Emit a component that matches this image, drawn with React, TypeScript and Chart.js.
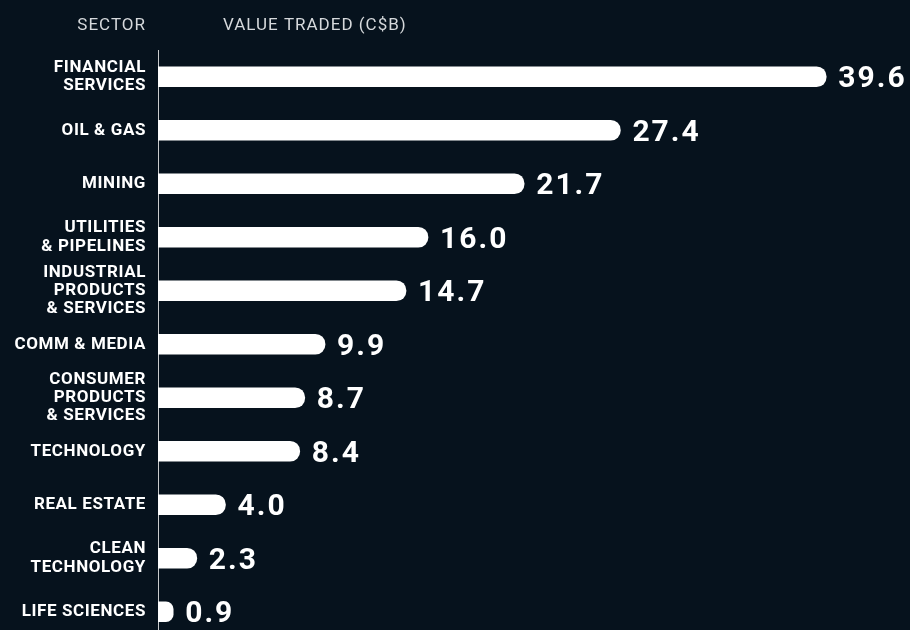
import React, { useEffect, useRef } from "react";
import { Chart, registerables } from "chart.js";

Chart.register(...registerables);

const sectors: string[][] = [
  ["FINANCIAL", "SERVICES"],
  ["OIL & GAS"],
  ["MINING"],
  ["UTILITIES", "& PIPELINES"],
  ["INDUSTRIAL", "PRODUCTS", "& SERVICES"],
  ["COMM & MEDIA"],
  ["CONSUMER", "PRODUCTS", "& SERVICES"],
  ["TECHNOLOGY"],
  ["REAL ESTATE"],
  ["CLEAN", "TECHNOLOGY"],
  ["LIFE SCIENCES"],
];
const values: number[] = [39.6, 27.4, 21.7, 16.0, 14.7, 9.9, 8.7, 8.4, 4.0, 2.3, 0.9];
const headerSector = "SECTOR";
const headerValue = "VALUE TRADED (C$B)";

const BG = "#06121d";
const FONT = "Roboto, 'Liberation Sans', sans-serif";

export default function App() {
  const ref = useRef<HTMLCanvasElement>(null);

  useEffect(() => {
    const canvas = ref.current;
    if (!canvas) return;

    const plugin = {
      id: "custom",
      beforeDraw(chart: any) {
        const ctx = chart.ctx;
        ctx.save();
        ctx.fillStyle = BG;
        ctx.fillRect(0, 0, chart.width, chart.height);
        ctx.restore();
        (ctx as any).letterSpacing = "0.6px";
      },
      afterDatasetsDraw(chart: any) {
        const ctx = chart.ctx;
        const meta = chart.getDatasetMeta(0);
        ctx.save();
        (ctx as any).letterSpacing = "2px";
        ctx.fillStyle = "#ffffff";
        ctx.font = `bold 30px ${FONT}`;
        ctx.textAlign = "left";
        ctx.textBaseline = "alphabetic";
        meta.data.forEach((bar: any, i: number) => {
          ctx.fillText(values[i].toFixed(1), bar.x + 12, bar.y + 10.5);
        });
        ctx.restore();
      },
      afterDraw(chart: any) {
        const ctx = chart.ctx;
        const area = chart.chartArea;
        ctx.save();
        (ctx as any).letterSpacing = "1px";
        ctx.fillStyle = "#d6d9dc";
        ctx.font = `17px ${FONT}`;
        ctx.textBaseline = "alphabetic";
        ctx.textAlign = "right";
        ctx.fillText(headerSector, area.left - 12, 30);
        ctx.textAlign = "left";
        ctx.fillText(headerValue, area.left + 65, 30);
        ctx.restore();
      },
    };

    const chart = new Chart(canvas, {
      type: "bar",
      data: {
        labels: sectors,
        datasets: [
          {
            data: values,
            backgroundColor: "#ffffff",
            borderWidth: 0,
            barThickness: 20,
            borderRadius: { topLeft: 0, bottomLeft: 0, topRight: 10, bottomRight: 10 },
            borderSkipped: false,
          },
        ],
      },
      options: {
        indexAxis: "y",
        responsive: false,
        animation: false,
        devicePixelRatio: 1,
        layout: { padding: { left: 0, right: 77, top: 50, bottom: 1.5 } },
        plugins: {
          legend: { display: false },
          tooltip: { enabled: false },
          title: { display: false },
        },
        scales: {
          x: { display: false, min: 0, max: 40 },
          y: {
            afterFit: (scale: any) => {
              scale.width = 158;
              scale.paddingTop = 0;
              scale.paddingBottom = 0;
            },
            grid: { display: false, drawTicks: false },
            border: { display: true, color: "#c9cbcd", width: 1 },
            ticks: {
              autoSkip: false,
              color: "#ffffff",
              padding: 12,
              font: { family: FONT, size: 17, weight: "bold", lineHeight: 1.08 },
            },
          },
        },
      },
      plugins: [plugin],
    } as any);

    return () => chart.destroy();
  }, []);

  return (
    <div
      style={{
        position: "absolute",
        left: 0,
        top: 0,
        width: 910,
        height: 630,
        overflow: "hidden",
        background: BG,
      }}
    >
      <canvas ref={ref} width={910} height={640} style={{ display: "block" }} />
    </div>
  );
}
